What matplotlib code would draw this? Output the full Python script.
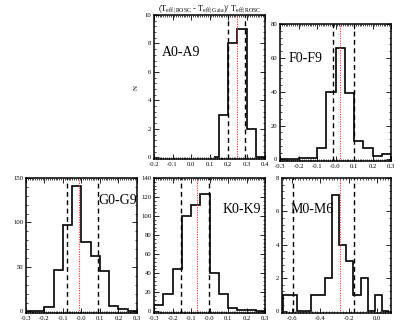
##### Teff comparison histograms, one panel per spectral class
import numpy as np
import matplotlib.pyplot as plt
from matplotlib.ticker import AutoMinorLocator

plt.rcParams['font.family'] = ['Liberation Serif', 'DejaVu Serif']
plt.rcParams['mathtext.fontset'] = 'custom'
plt.rcParams['mathtext.rm'] = 'Liberation Serif'
plt.rcParams['mathtext.it'] = 'Liberation Serif:italic'

### values
# A0-A9
A_edges = [0.125, 0.15, 0.20, 0.25, 0.30, 0.35, 0.40]
A_counts = [0, 3, 8, 9, 2, 0]
A_dash = [0.20, 0.29]
A_red = 0.25
A_xticks = [-0.2, -0.1, 0.0, 0.1, 0.2, 0.3, 0.4]
A_xlabels = ['-0.2', '-0.1', '0.0', '0.1', '0.2', '0.3', '0.4']
A_yticks = [0, 2, 4, 6, 8, 10]

# F0-F9
F_edges = [-0.3, -0.25, -0.2, -0.15, -0.1, -0.05, 0.0, 0.05, 0.1, 0.15, 0.2, 0.25, 0.3]
F_counts = [0, 0, 1, 1, 7, 40, 66, 39, 11, 7, 2, 3]
F_dash = [-0.016, 0.10]
F_red = 0.025
F_yticks = [0, 20, 40, 60, 80]

# G0-G9
G_edges = [-0.3, -0.25, -0.2, -0.15, -0.1, -0.05, 0.0, 0.05, 0.1, 0.15, 0.2, 0.25, 0.3]
G_counts = [0, 0, 5, 46, 97, 141, 78, 62, 45, 6, 3, 1]
G_dash = [-0.08, 0.088]
G_red = -0.014
G_yticks = [0, 50, 100, 150]

# K0-K9
K_edges = [-0.3, -0.25, -0.2, -0.15, -0.1, -0.05, 0.0, 0.05, 0.1, 0.15, 0.2, 0.25, 0.3]
K_counts = [7, 18, 45, 100, 112, 123, 40, 18, 4, 1, 1, 0]
K_dash = [-0.155, -0.004]
K_red = -0.067
K_yticks = [0, 20, 40, 60, 80, 100, 120, 140]

# M0-M6
M_edges = [-0.665, -0.615, -0.565, -0.515, -0.465, -0.415, -0.365, -0.315,
           -0.265, -0.215, -0.165, -0.115, -0.065, -0.015, 0.035, 0.085]
M_counts = [1, 1, 0, 0, 1, 1, 2, 7, 4, 3, 1, 2, 0, 1, 0]
M_dash = [-0.595, -0.158]
M_red = -0.262
M_xticks = [-0.6, -0.4, -0.2, 0.0]
M_xlabels = ['-0.6', '-0.4', '-0.2', '0.0']
M_yticks = [0, 2, 4, 6, 8]

# shared x ticks of the -0.3..0.3 panels
sym_xticks = [-0.3, -0.2, -0.1, 0.0, 0.1, 0.2, 0.3]
sym_xlabels = ['-0.3', '-0.2', '-0.1', '-0.0', '0.1', '0.2', '0.3']

W, H = 407, 326
fig = plt.figure(figsize=(W / 100, H / 100), dpi=100)

def box(x0, x1, y0, y1):
    # pixel box -> figure fraction
    return [x0 / W, 1 - y1 / H, (x1 - x0) / W, (y1 - y0) / H]

panels = [
    # name, box, edges, counts, dash, red, xlim, xticks, xlabels, yticks, ymax, label pos
    ('A0-A9', box(154, 265, 15, 159), A_edges, A_counts, A_dash, A_red, (-0.2, 0.4), A_xticks, A_xlabels, A_yticks, 10, (0.07, 0.74)),
    ('F0-F9', box(280, 391, 24, 161), F_edges, F_counts, F_dash, F_red, (-0.3, 0.3), sym_xticks, sym_xlabels, F_yticks, 80, (0.08, 0.745)),
    ('G0-G9', box(26, 137, 178, 313), G_edges, G_counts, G_dash, G_red, (-0.3, 0.3), sym_xticks, sym_xlabels, G_yticks, 150, (0.655, 0.83)),
    ('K0-K9', box(154, 265, 178, 313), K_edges, K_counts, K_dash, K_red, (-0.3, 0.3), sym_xticks, sym_xlabels, K_yticks, 140, (0.62, 0.77)),
    ('M0-M6', box(282, 391, 178, 313), M_edges, M_counts, M_dash, M_red, (-0.67, 0.10), M_xticks, M_xlabels, M_yticks, 8, (0.08, 0.77)),
]

axes = {}
for name, pos, edges, counts, dash, red, xlim, xt, xl, yt, ymax, lpos in panels:
    ax = fig.add_axes(pos)
    ax.stairs(counts, edges, color='black', linewidth=1.2)
    for d in dash:
        ax.axvline(d, color='black', linestyle=(0, (3.5, 2.5)), linewidth=1.0)
    ax.axvline(red, color='#ff3030', linestyle=(0, (1, 1.2)), linewidth=0.8)
    ax.set_xlim(xlim)
    ax.set_ylim(-0.012 * ymax, ymax)
    ax.set_xticks(xt)
    ax.set_xticklabels(xl)
    ax.set_yticks(yt)
    ax.xaxis.set_minor_locator(AutoMinorLocator(10))
    ax.yaxis.set_minor_locator(AutoMinorLocator(5))
    ax.tick_params(which='both', direction='in', top=True, right=True, labelsize=4.8, pad=2)
    ax.tick_params(which='major', length=3.5, width=0.6)
    ax.tick_params(which='minor', length=1.5, width=0.5)
    for s in ax.spines.values():
        s.set_linewidth(1.1)
    ax.text(lpos[0], lpos[1], name, transform=ax.transAxes, fontsize=10, va='center', ha='left')
    axes[name] = ax

axes['A0-A9'].set_ylabel('N', fontsize=5, labelpad=4)
axes['A0-A9'].set_title(r'(T$_{\rm eff\,|\,ROSC}$ - T$_{\rm eff\,|\,Gaia}$)/ T$_{\rm eff\,|\,ROSC}$',
                        fontsize=6, pad=2)

plt.savefig('out.png', dpi=100)
plt.close()
